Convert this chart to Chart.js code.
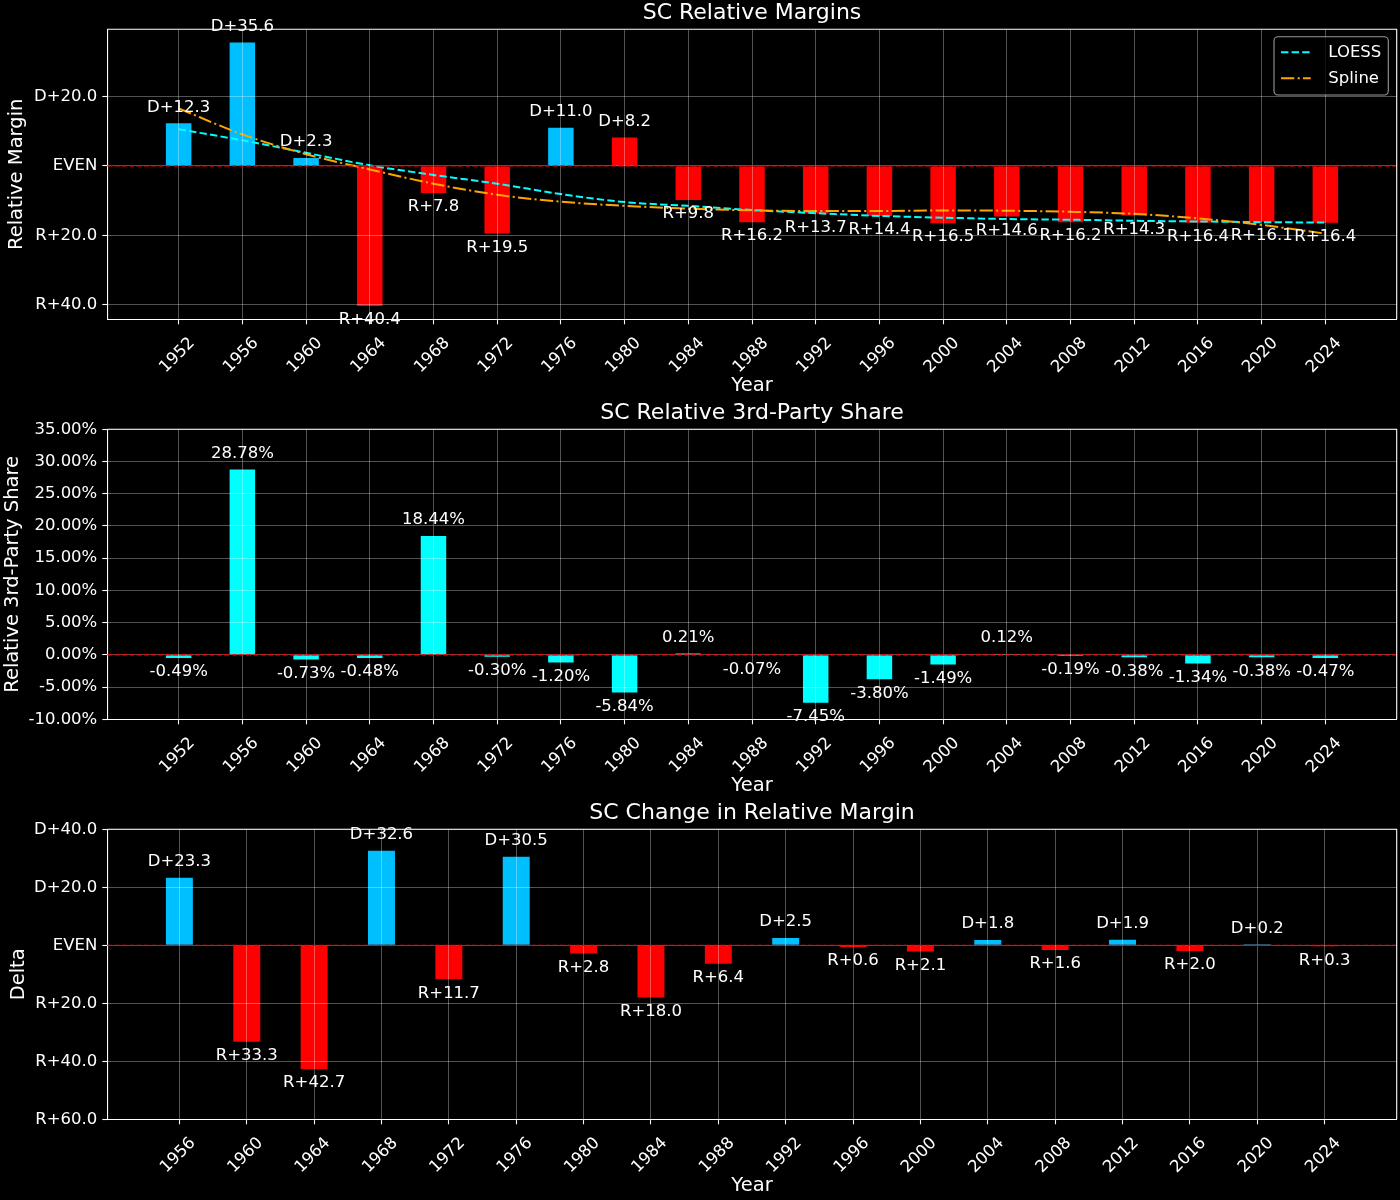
<!DOCTYPE html>
<html>
<head>
<meta charset="utf-8">
<script src="https://cdn.jsdelivr.net/npm/chart.js@4.4.1/dist/chart.umd.min.js"></script>
<style>
html, body { margin: 0; padding: 0; background: #000; }
.wrap { position: absolute; left: 0; width: 1400px; height: 400px; }
canvas { display: block; }
</style>
</head>
<body>
<div class="wrap" style="top:0px"><canvas id="c1" width="1400" height="400"></canvas></div>
<div class="wrap" style="top:400px"><canvas id="c2" width="1400" height="400"></canvas></div>
<div class="wrap" style="top:800px"><canvas id="c3" width="1400" height="400"></canvas></div>
<script>
// ---------------- data ----------------
const yearsMargin = [1952, 1956, 1960, 1964, 1968, 1972, 1976, 1980, 1984, 1988, 1992, 1996, 2000, 2004, 2008, 2012, 2016, 2020, 2024];
// relative margin (positive = D, negative = R)
const relMargin = [12.3, 35.6, 2.3, -40.4, -7.8, -19.5, 11.0, 8.2, -9.8, -16.2, -13.7, -14.4, -16.5, -14.6, -16.2, -14.3, -16.4, -16.1, -16.4];
// party that carried the state (bar colour)
const stateWinner = ['D', 'D', 'D', 'R', 'R', 'R', 'D', 'R', 'R', 'R', 'R', 'R', 'R', 'R', 'R', 'R', 'R', 'R', 'R'];
const loessTrend = [10.6, 7.4, 3.8, 0.2, -2.6, -5.1, -8.1, -10.4, -11.5, -12.7, -13.6, -14.4, -14.9, -15.3, -15.5, -15.8, -16.0, -16.2, -16.3];
const splineTrend = [16.6, 9.1, 3.4, -1.0, -5.1, -8.3, -10.3, -11.5, -12.3, -12.8, -13.0, -13.0, -12.8, -12.9, -13.2, -13.8, -15.1, -17.0, -19.5];
// relative 3rd-party share (%)
const thirdParty = [-0.49, 28.78, -0.73, -0.48, 18.44, -0.30, -1.20, -5.84, 0.21, -0.07, -7.45, -3.80, -1.49, 0.12, -0.19, -0.38, -1.34, -0.38, -0.47];
const yearsDelta = [1956, 1960, 1964, 1968, 1972, 1976, 1980, 1984, 1988, 1992, 1996, 2000, 2004, 2008, 2012, 2016, 2020, 2024];
const deltaMargin = [23.3, -33.3, -42.7, 32.6, -11.7, 30.5, -2.8, -18.0, -6.4, 2.5, -0.6, -2.1, 1.8, -1.6, 1.9, -2.0, 0.2, -0.3];
// tick values
const ticksMargin = [-40, -20, 0, 20];
const ticksShare = [-10, -5, 0, 5, 10, 15, 20, 25, 30, 35];
const ticksDelta = [-60, -40, -20, 0, 20, 40];

// ---------------- styles ----------------
Chart.defaults.font.family = "'DejaVu Sans', sans-serif";
Chart.defaults.color = '#ffffff';
const FONT_TICK = 16.5, FONT_LABEL = 19.5, FONT_TITLE = 22, FONT_VALUE = 16.5;
const GRID = 'rgba(255,255,255,0.32)';
const BLUE = '#00bfff', RED = '#ff0000', CYAN = '#00ffff', ORANGE = '#ffa500';

function fmtMargin(v) {
  if (Math.abs(v) < 1e-9) return 'EVEN';
  return (v > 0 ? 'D+' : 'R+') + Math.abs(v).toFixed(1);
}
function fmtPct(v) { return v.toFixed(2) + '%'; }

const decor = {
  id: 'decor',
  afterDraw(chart, args, opts) {
    const { ctx, chartArea: a } = chart;
    const x = chart.scales.x, y = chart.scales.y;
    ctx.save();
    // zero reference line
    const y0 = y.getPixelForValue(0);
    ctx.strokeStyle = RED; ctx.lineWidth = 1.2; ctx.setLineDash([5.1, 2.2]);
    ctx.beginPath(); ctx.moveTo(a.left, y0); ctx.lineTo(a.right, y0); ctx.stroke();
    ctx.setLineDash([]);
    // frame (top and right spines)
    ctx.strokeStyle = '#ffffff'; ctx.lineWidth = 1.1;
    ctx.beginPath();
    ctx.moveTo(a.left, a.top); ctx.lineTo(a.right, a.top); ctx.lineTo(a.right, a.bottom);
    ctx.stroke();
    // rotated x tick labels
    ctx.fillStyle = '#ffffff';
    ctx.font = FONT_TICK + "px 'DejaVu Sans'";
    x.ticks.forEach(t => {
      const px = x.getPixelForValue(t.value);
      ctx.save();
      ctx.translate(px + 16.6, a.bottom + 24.3);
      ctx.rotate(-Math.PI / 4);
      ctx.textAlign = 'right'; ctx.textBaseline = 'alphabetic';
      ctx.fillText(String(t.value), 0, 0);
      ctx.restore();
    });
    // value labels
    const bi = opts.barIndex;
    const meta = chart.getDatasetMeta(bi);
    const ds = chart.data.datasets[bi];
    ctx.fillStyle = '#ffffff';
    ctx.font = FONT_VALUE + "px 'DejaVu Sans'";
    ctx.textAlign = 'center'; ctx.textBaseline = 'middle';
    meta.data.forEach((el, i) => {
      const v = ds.data[i].y;
      const ty = v >= 0 ? el.y - 16 : el.y + 14;
      ctx.fillText(opts.fmt(v), el.x, ty);
    });
    // legend
    if (opts.legend) {
      const bw = 114.3, bh = 58.3;
      const bx = a.right - 8.4 - bw, by = a.top + 7.4;
      ctx.beginPath();
      ctx.roundRect(bx, by, bw, bh, 4);
      ctx.fillStyle = 'rgba(0,0,0,0.8)'; ctx.fill();
      ctx.strokeStyle = 'rgba(255,255,255,0.6)'; ctx.lineWidth = 1.1; ctx.stroke();
      opts.legend.forEach((di, k) => {
        const d = chart.data.datasets[di];
        const ly = by + 15.6 + k * 26;
        ctx.strokeStyle = d.borderColor; ctx.lineWidth = d.borderWidth;
        ctx.setLineDash(d.borderDash);
        ctx.beginPath(); ctx.moveTo(bx + 7, ly); ctx.lineTo(bx + 36.7, ly); ctx.stroke();
        ctx.setLineDash([]);
        ctx.fillStyle = '#ffffff';
        ctx.font = FONT_VALUE + "px 'DejaVu Sans'";
        ctx.textAlign = 'left'; ctx.textBaseline = 'middle';
        ctx.fillText(d.label, bx + 54.3, ly + 0.5);
      });
    }
    ctx.restore();
  }
};
Chart.register(decor);

function gridOpts() {
  return { color: GRID, lineWidth: 1, z: 1, offset: false, drawTicks: true, tickLength: 5, tickColor: '#ffffff', tickWidth: 1.1 };
}
function xAxis(years, min, max) {
  return {
    type: 'linear', min: min, max: max, offset: false,
    afterBuildTicks: s => { s.ticks = years.map(v => ({ value: v })); },
    ticks: { display: false },
    grid: gridOpts(),
    border: { color: '#ffffff', width: 1.1, z: 1 },
    title: { display: true, text: 'Year', font: { size: FONT_LABEL }, color: '#ffffff', padding: { top: 0, bottom: 2.4 } },
    afterFit: s => { s.height = 80.7; }
  };
}
function yAxis(min, max, tickVals, fmt, title, titlePad) {
  return {
    type: 'linear', min: min, max: max,
    afterBuildTicks: s => { s.ticks = tickVals.map(v => ({ value: v })); },
    ticks: { callback: v => fmt(v), font: { size: FONT_TICK }, color: '#ffffff', padding: 5, autoSkip: false },
    grid: gridOpts(),
    border: { color: '#ffffff', width: 1.1, z: 1 },
    title: { display: true, text: title, font: { size: FONT_LABEL }, color: '#ffffff', padding: { top: titlePad, bottom: 0 } },
    afterFit: s => { s.width = 107.3; }
  };
}
function baseOptions(title, xs, ys, decorOpts) {
  return {
    responsive: false, animation: false, devicePixelRatio: 1,
    layout: { padding: { left: 0, right: 3.3, top: 0, bottom: 0 } },
    plugins: {
      legend: { display: false }, tooltip: { enabled: false },
      title: { display: true, text: title, fullSize: false, color: '#ffffff',
               font: { size: FONT_TITLE, weight: 'normal' }, padding: { top: 0, bottom: 2.9 } },
      decor: decorOpts
    },
    scales: { x: xs, y: ys }
  };
}
const pts = (xs, ys) => xs.map((v, i) => ({ x: v, y: ys[i] }));

// ---------------- chart 1 ----------------
new Chart(document.getElementById('c1'), {
  type: 'bar',
  data: {
    datasets: [
      { type: 'line', label: 'LOESS', data: pts(yearsMargin, loessTrend), borderColor: CYAN, borderWidth: 2,
        borderDash: [7.4, 3.2], pointRadius: 0, fill: false, cubicInterpolationMode: 'monotone', order: 1 },
      { type: 'line', label: 'Spline', data: pts(yearsMargin, splineTrend), borderColor: ORANGE, borderWidth: 2,
        borderDash: [13.3, 3.3, 2.1, 3.3], pointRadius: 0, fill: false, cubicInterpolationMode: 'monotone', order: 0 },
      { type: 'bar', label: 'Relative Margin', data: pts(yearsMargin, relMargin),
        backgroundColor: stateWinner.map(w => w === 'D' ? BLUE : RED), borderWidth: 0,
        barPercentage: 1.0, categoryPercentage: 0.4, order: 2 }
    ]
  },
  options: baseOptions('SC Relative Margins',
    xAxis(yearsMargin, 1947.52, 2028.48),
    yAxis(-44.2, 39.4, ticksMargin, fmtMargin, 'Relative Margin', 5.7),
    { barIndex: 2, fmt: fmtMargin, legend: [0, 1] })
});

// ---------------- chart 2 ----------------
new Chart(document.getElementById('c2'), {
  type: 'bar',
  data: {
    datasets: [
      { label: 'Relative 3rd-Party Share', data: pts(yearsMargin, thirdParty), backgroundColor: CYAN,
        borderWidth: 0, barPercentage: 1.0, categoryPercentage: 0.4 }
    ]
  },
  options: baseOptions('SC Relative 3rd-Party Share',
    xAxis(yearsMargin, 1947.52, 2028.48),
    yAxis(-10, 35, ticksShare, fmtPct, 'Relative 3rd-Party Share', 1.0),
    { barIndex: 0, fmt: fmtPct, legend: null })
});

// ---------------- chart 3 ----------------
new Chart(document.getElementById('c3'), {
  type: 'bar',
  data: {
    datasets: [
      { label: 'Delta', data: pts(yearsDelta, deltaMargin),
        backgroundColor: deltaMargin.map(v => v >= 0 ? BLUE : RED),
        borderWidth: 0, barPercentage: 1.0, categoryPercentage: 0.4, minBarLength: 1 }
    ]
  },
  options: baseOptions('SC Change in Relative Margin',
    xAxis(yearsDelta, 1951.72, 2028.28),
    yAxis(-60, 40, ticksDelta, fmtMargin, 'Delta', 7.7),
    { barIndex: 0, fmt: fmtMargin, legend: null })
});
</script>
</body>
</html>
